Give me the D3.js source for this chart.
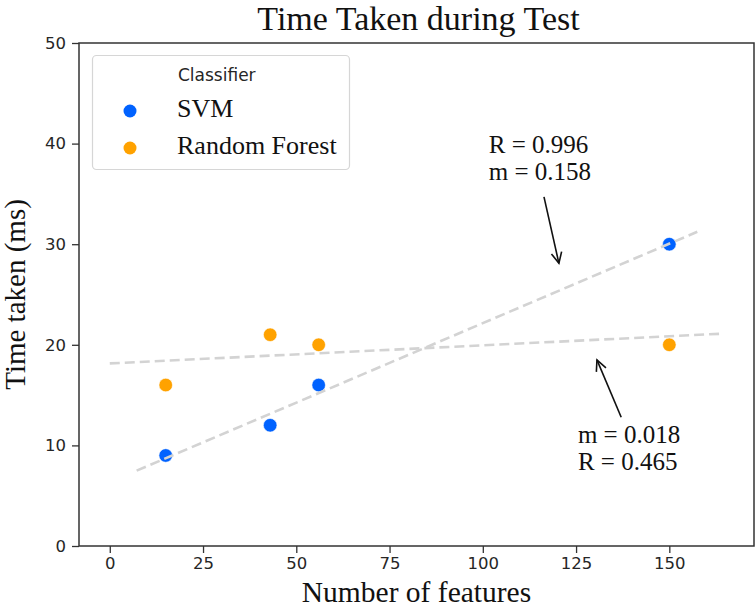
<!DOCTYPE html>
<html>
<head>
<meta charset="utf-8">
<script src="https://cdn.jsdelivr.net/npm/d3@7"></script>
<style>
  html, body { margin: 0; padding: 0; background: #fff; }
  svg { display: block; }
</style>
</head>
<body>
<svg id="chart" width="756" height="609"></svg>
<script>
// ---------- data ----------
const seriesNames = ["SVM", "Random Forest"];
const seriesColors = ["#0062ff", "#ffa200"];
const svmX = [15, 43, 56, 150];
const svmY = [9, 12, 16, 30];
const rfX = [15, 43, 56, 150];
const rfY = [16, 21, 20, 20];
// regression lines: [x0, x1, intercept, slope]
const svmFit = { x0: 7.2, x1: 157.5, b: 6.35, m: 0.158 };
const rfFit = { x0: 0, x1: 164, b: 18.15, m: 0.018 };
const xTicks = [0, 25, 50, 75, 100, 125, 150];
const yTicks = [0, 10, 20, 30, 40, 50];
// annotations (data coordinates)
const annotations = [
  { lines: ["R = 0.996", "m = 0.158"], textX: 101.6, textY: 39.1, tail: [116.4, 34.7], tip: [120.4, 28.1] },
  { lines: ["m = 0.018", "R = 0.465"], textX: 125.5, textY: 10.2, tail: [137.1, 12.8], tip: [130.6, 18.5] }
];
const titleText = "Time Taken during Test";
const xLabel = "Number of features";
const yLabel = "Time taken (ms)";
const legendTitle = "Classifier";

// ---------- layout ----------
const svg = d3.select("#chart");
const L = 79, R = 754, T = 43, B = 546;
const x = d3.scaleLinear().domain([-8.25, 172.7]).range([L, R]);
const y = d3.scaleLinear().domain([0, 50]).range([B, T]);
const serif = "'Liberation Serif', 'Times New Roman', serif";
const sans = "'DejaVu Sans', sans-serif";
const axisColor = "#333";
const tickTextColor = "#262626";

// title
svg.append("text").attr("x", (L + R) / 2 + 2).attr("y", 30)
  .attr("text-anchor", "middle").attr("font-family", serif).attr("font-size", 34)
  .attr("fill", "#111").text(titleText);

// axes
const xAxis = d3.axisBottom(x).tickValues(xTicks).tickSize(7).tickPadding(4).tickFormat(d3.format("d"));
const yAxis = d3.axisLeft(y).tickValues(yTicks).tickSize(7).tickPadding(6).tickFormat(d3.format("d"));
const gx = svg.append("g").attr("transform", `translate(0,${B})`).call(xAxis);
const gy = svg.append("g").attr("transform", `translate(${L},0)`).call(yAxis);
[gx, gy].forEach(g => {
  g.select(".domain").remove();
  g.selectAll(".tick line").attr("stroke", axisColor).attr("stroke-width", 1.3);
  g.selectAll(".tick text").attr("font-family", sans).attr("font-size", 16.5).attr("fill", tickTextColor);
});

// frame
svg.append("rect").attr("x", L).attr("y", T).attr("width", R - L).attr("height", B - T)
  .attr("fill", "none").attr("stroke", axisColor).attr("stroke-width", 1.5);

// axis labels
svg.append("text").attr("x", (L + R) / 2).attr("y", 602)
  .attr("text-anchor", "middle").attr("font-family", serif).attr("font-size", 29.5)
  .attr("fill", "#111").text(xLabel);
svg.append("text").attr("transform", `translate(25,${(T + B) / 2}) rotate(-90)`)
  .attr("text-anchor", "middle").attr("font-family", serif).attr("font-size", 29)
  .attr("fill", "#111").text(yLabel);

// points
const plot = svg.append("g");
const seriesData = [
  svmX.map((v, i) => ({ x: v, y: svmY[i] })),
  rfX.map((v, i) => ({ x: v, y: rfY[i] }))
];
seriesData.forEach((pts, si) => {
  plot.selectAll(null).data(pts).enter().append("circle")
    .attr("cx", d => x(d.x)).attr("cy", d => y(d.y)).attr("r", 6.8)
    .attr("fill", seriesColors[si]).attr("stroke", "#fff").attr("stroke-width", 0.6);
});

// fit lines (drawn on top)
const line = d3.line().x(d => x(d[0])).y(d => y(d[1]));
[svmFit, rfFit].forEach(f => {
  plot.append("path")
    .attr("d", line([[f.x0, f.b + f.m * f.x0], [f.x1, f.b + f.m * f.x1]]))
    .attr("fill", "none").attr("stroke", "#d3d3d3").attr("stroke-width", 2.6)
    .attr("stroke-dasharray", "10,5");
});

// annotations
annotations.forEach(a => {
  const t = svg.append("text").attr("font-family", serif).attr("font-size", 25).attr("fill", "#111");
  a.lines.forEach((s, i) => {
    t.append("tspan").attr("x", x(a.textX)).attr("y", y(a.textY) + i * 27).text(s);
  });
  const x1 = x(a.tail[0]), y1 = y(a.tail[1]), x2 = x(a.tip[0]), y2 = y(a.tip[1]);
  svg.append("line").attr("x1", x1).attr("y1", y1).attr("x2", x2).attr("y2", y2)
    .attr("stroke", "#111").attr("stroke-width", 1.6);
  const ang = Math.atan2(y2 - y1, x2 - x1);
  const hl = 12, ha = Math.PI / 7;
  const p1 = [x2 - hl * Math.cos(ang - ha), y2 - hl * Math.sin(ang - ha)];
  const p2 = [x2 - hl * Math.cos(ang + ha), y2 - hl * Math.sin(ang + ha)];
  svg.append("path").attr("d", `M${p1[0]},${p1[1]}L${x2},${y2}L${p2[0]},${p2[1]}`)
    .attr("fill", "none").attr("stroke", "#111").attr("stroke-width", 1.6);
});

// legend
const lg = svg.append("g");
lg.append("rect").attr("x", 92.5).attr("y", 55.5).attr("width", 257).attr("height", 114).attr("rx", 4)
  .attr("fill", "#fff").attr("fill-opacity", 0.85).attr("stroke", "#d6d6d6").attr("stroke-width", 1.2);
lg.append("text").attr("x", 178).attr("y", 81).attr("font-family", sans).attr("font-size", 17)
  .attr("fill", tickTextColor).text(legendTitle);
const legendY = [111, 148];
seriesNames.forEach((n, i) => {
  lg.append("circle").attr("cx", 130).attr("cy", legendY[i]).attr("r", 6.5).attr("fill", seriesColors[i]);
  lg.append("text").attr("x", 177).attr("y", legendY[i] + 6).attr("font-family", serif).attr("font-size", 26)
    .attr("fill", "#111").text(n);
});
</script>
</body>
</html>
